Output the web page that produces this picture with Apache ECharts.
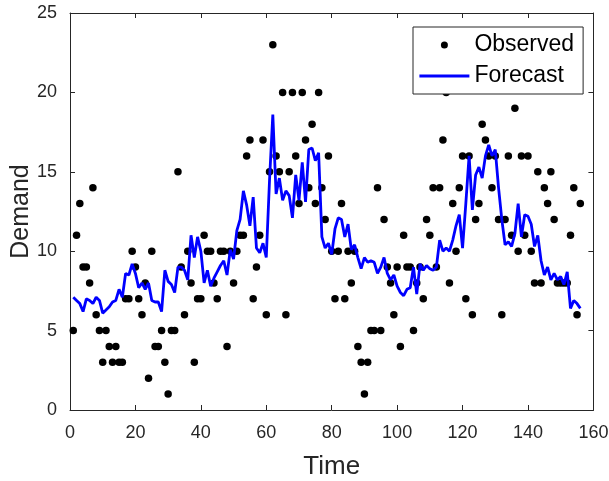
<!DOCTYPE html>
<html>
<head>
<meta charset="utf-8">
<script src="https://cdn.jsdelivr.net/npm/echarts@6/dist/echarts.min.js"></script>
<style>
html,body{margin:0;padding:0;background:#fff;}
#chart{width:609px;height:481px;}
</style>
</head>
<body>
<div id="chart"></div>
<script>
// Time index (1..156)
var observedValues = [
  5, 11, 13, 9, 9, 8, 14, 6, 5, 3,
  5, 4, 3, 4, 3, 3, 7, 7, 10, 9,
  7, 6, 8, 2, 10, 4, 4, 5, 3, 1,
  5, 5, 15, 9, 6, 10, 8, 3, 7, 7,
  11, 10, 10, 8, 7, 10, 10, 4, 10, 8,
  10, 11, 11, 16, 17, 7, 9, 11, 17, 6,
  15, 23, 16, 15, 20, 6, 15, 20, 16, 13,
  20, 17, 14, 18, 13, 20, 14, 12, 16, 10,
  7, 10, 13, 7, 10, 8, 10, 4, 3, 1,
  3, 5, 5, 14, 5, 12, 9, 8, 6, 9,
  4, 11, 9, 9, 5, 8, 9, 7, 12, 11,
  14, 9, 14, 17, 20, 8, 13, 10, 14, 16,
  7, 16, 6, 12, 13, 18, 17, 16, 14, 16,
  12, 6, 12, 16, 11, 19, 10, 16, 11, 16,
  10, 8, 15, 8, 14, 13, 15, 12, 8, 8,
  8, 8, 11, 14, 6, 13
];
var forecastValues = [
  7.1, 6.9, 6.7, 6.2, 7.0, 6.9, 6.7, 7.1, 6.9, 6.1,
  6.3, 6.5, 6.8, 6.9, 7.6, 7.1, 8.6, 8.5, 9.2, 8.6,
  7.7, 8.0, 7.6, 8.0, 6.9, 6.8, 6.8, 6.2, 8.8, 8.1,
  7.9, 7.4, 9.0, 9.0, 8.8, 8.2, 11.0, 9.6, 10.9, 10.0,
  8.0, 8.8, 7.8, 8.3, 8.7, 9.1, 9.4, 8.5, 10.1, 9.5,
  11.3, 12.0, 13.8, 12.9, 11.6, 13.4, 10.2, 9.9, 10.5, 9.6,
  14.5, 18.6, 13.6, 14.6, 13.2, 13.8, 13.5, 12.1, 14.8, 13.2,
  15.6, 13.1, 16.4, 16.5, 15.7, 16.2, 10.9, 10.2, 10.5, 9.8,
  11.4, 12.1, 12.0, 10.9, 11.7, 10.1, 10.4, 9.6, 8.9, 9.6,
  9.3, 9.4, 9.3, 8.6, 9.0, 9.6, 8.6, 8.2, 8.5, 7.8,
  7.4, 7.2, 7.6, 7.7, 9.0, 7.3, 9.2, 8.8, 9.1, 8.9,
  8.8, 9.0, 10.7, 10.0, 10.2, 10.0, 10.7, 11.6, 12.3, 10.2,
  13.0, 16.0, 12.6, 14.8, 15.3, 14.6, 16.0, 16.7, 16.0, 16.4,
  14.0, 12.0, 10.4, 10.6, 10.3, 11.1, 13.0, 10.9, 12.3, 12.2,
  11.7, 10.3, 11.0, 9.4, 8.5, 9.0, 8.2, 8.6, 8.2, 8.4,
  7.9, 8.7, 6.4, 6.9, 6.7, 6.4
];
var xTicks = [0, 20, 40, 60, 80, 100, 120, 140, 160];
var yTicks = [0, 5, 10, 15, 20, 25];

var obsData = observedValues.map(function (v, i) { return [i + 1, v]; });
var fcData = forecastValues.map(function (v, i) { return [i + 1, v]; });

var axisColor = '#262626';
var FONT = 'Liberation Sans, Arial, Helvetica, sans-serif';

function baseAxis(extra) {
  var a = {
    type: 'value',
    axisLine: { show: true, onZero: false, lineStyle: { color: axisColor, width: 1 } },
    axisTick: { show: true, inside: true, length: 5, lineStyle: { color: axisColor, width: 1 } },
    splitLine: { show: false },
    axisLabel: { show: false }
  };
  for (var k in extra) a[k] = extra[k];
  return a;
}

var chart = echarts.init(document.getElementById('chart'), null, { renderer: 'canvas' });
chart.setOption({
  animation: false,
  backgroundColor: '#ffffff',
  grid: { left: 70, right: 15.6, top: 13, bottom: 71, containLabel: false, outerBoundsMode: 'none' },
  xAxis: [
    baseAxis({
      position: 'bottom', min: xTicks[0], max: xTicks[xTicks.length - 1], interval: 20,
      axisLabel: { show: true, fontSize: 18, color: axisColor, fontFamily: FONT, margin: 14 },
      name: 'Time', nameLocation: 'middle', nameGap: 44, nameMoveOverlap: false,
      nameTextStyle: { fontSize: 26, color: axisColor, fontFamily: FONT }
    }),
    baseAxis({ position: 'top', min: xTicks[0], max: xTicks[xTicks.length - 1], interval: 20 })
  ],
  yAxis: [
    baseAxis({
      position: 'left', min: yTicks[0], max: yTicks[yTicks.length - 1], interval: 5,
      axisLabel: { show: true, fontSize: 18, color: axisColor, fontFamily: FONT, margin: 13 },
      name: 'Demand', nameLocation: 'middle', nameGap: 36, nameMoveOverlap: false,
      nameTextStyle: { fontSize: 25, color: axisColor, fontFamily: FONT }
    }),
    baseAxis({ position: 'right', min: yTicks[0], max: yTicks[yTicks.length - 1], interval: 5 })
  ],
  legend: {
    left: 413, top: 27,
    orient: 'vertical',
    selectedMode: false,
    backgroundColor: '#ffffff',
    borderColor: axisColor,
    borderWidth: 1,
    borderRadius: 0,
    padding: [6, 9, 6, 5],
    itemWidth: 50,
    itemHeight: 7,
    itemGap: 7,
    textStyle: { fontSize: 23, color: '#000000', fontFamily: FONT, lineHeight: 24 },
    data: [
      { name: 'Observed', icon: 'circle', itemStyle: { color: '#000000', opacity: 1 } },
      { name: 'Forecast', itemStyle: { opacity: 0 }, lineStyle: { color: '#0000ff', width: 2.8 } }
    ]
  },
  series: [
    {
      name: 'Observed', type: 'scatter', xAxisIndex: 0, yAxisIndex: 0,
      data: obsData, symbol: 'circle', symbolSize: 7.5,
      itemStyle: { color: '#000000', opacity: 1 }, z: 2
    },
    {
      name: 'Forecast', type: 'line', xAxisIndex: 0, yAxisIndex: 0,
      data: fcData, symbol: 'none', showSymbol: false,
      lineStyle: { color: '#0000ff', width: 2.8 }, itemStyle: { color: '#0000ff' }, z: 3
    }
  ]
});
</script>
</body>
</html>
